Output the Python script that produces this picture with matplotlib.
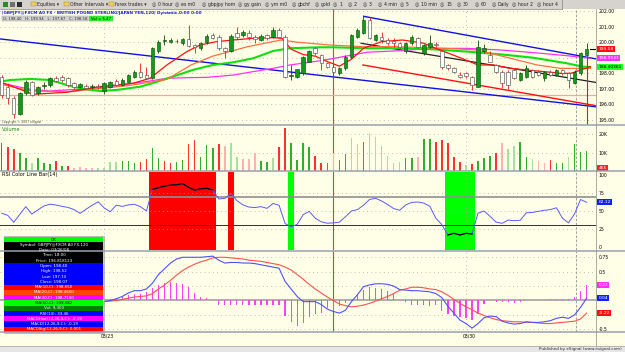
import numpy as np
import matplotlib.pyplot as plt
from matplotlib.patches import Rectangle

# ---- GBPJPY 120 min bars ----
opens = [197.77, 197.13, 196.38, 195.35, 196.70, 197.45, 196.70, 197.15, 197.24, 197.67,
         197.77, 197.67, 197.35, 197.13, 197.20, 197.10, 197.20, 196.85, 197.13, 197.50,
         197.24, 197.45, 197.78, 198.10, 197.88, 197.67, 199.40, 200.05, 200.04, 200.10,
         199.93, 200.21, 199.85, 199.61, 199.99, 200.46, 200.36, 199.61, 199.43, 200.57,
         200.46, 200.57, 200.36, 200.14, 200.47, 200.36, 200.79, 200.36, 197.85, 197.75,
         198.00, 198.75, 199.61, 199.18, 198.64, 198.42, 198.00, 198.31, 199.07, 200.36,
         200.57, 201.43, 200.15, 200.36, 200.15, 200.10, 199.93, 199.40, 199.93, 200.25,
         199.29, 199.72, 199.90, 199.40, 198.53, 198.31, 197.90, 198.00, 197.77, 197.13,
         199.40, 199.18, 198.53, 198.10, 198.10, 198.20, 197.56, 197.78, 198.20, 198.10,
         197.67, 198.10, 197.88, 198.20, 197.99, 197.35, 198.00, 199.20]
highs = [197.88, 197.35, 196.50, 196.81, 197.56, 197.50, 197.20, 197.40, 197.75, 197.80,
         197.90, 197.75, 197.40, 197.35, 197.30, 197.30, 197.30, 197.40, 197.50, 197.60,
         197.70, 197.95, 198.20, 198.63, 198.42, 199.70, 200.15, 200.47, 200.25, 200.20,
         200.30, 201.10, 199.90, 200.00, 200.50, 200.57, 200.45, 199.70, 200.50, 201.00,
         200.80, 200.80, 200.47, 200.50, 200.55, 201.00, 200.90, 200.45, 198.50, 198.30,
         199.10, 199.50, 199.72, 199.25, 198.70, 198.50, 198.40, 199.15, 200.55, 200.90,
         201.75, 201.65, 200.55, 200.68, 200.25, 200.25, 200.00, 200.00, 200.45, 200.35,
         199.90, 200.47, 200.00, 199.50, 198.60, 198.40, 198.10, 198.10, 197.85, 200.15,
         199.90, 199.40, 198.60, 198.20, 198.20, 198.30, 198.10, 198.50, 198.30, 198.20,
         198.15, 198.20, 198.30, 198.30, 198.10, 198.20, 199.35, 199.94]
lows = [196.38, 195.99, 195.09, 195.30, 196.60, 196.50, 196.60, 197.00, 197.10, 197.40,
        197.45, 197.10, 197.00, 197.05, 196.98, 197.00, 197.00, 196.66, 197.05, 197.15,
        197.15, 197.40, 197.70, 197.70, 197.60, 197.60, 199.30, 199.82, 199.95, 199.95,
        199.85, 199.70, 199.28, 199.50, 199.90, 200.20, 199.50, 199.00, 199.35, 200.20,
        200.36, 200.14, 199.93, 200.05, 200.14, 200.25, 200.25, 197.67, 197.56, 197.70,
        197.90, 198.70, 199.20, 198.21, 198.35, 197.67, 197.90, 198.20, 199.00, 200.25,
        200.50, 200.20, 200.05, 199.93, 199.85, 199.72, 199.60, 199.30, 199.85, 199.60,
        199.20, 199.60, 199.70, 198.30, 198.20, 198.00, 197.70, 197.70, 196.92, 197.10,
        199.30, 198.70, 198.00, 197.02, 197.00, 197.60, 197.50, 197.70, 197.70, 197.80,
        197.50, 197.80, 197.80, 197.90, 197.02, 197.30, 197.90, 194.50]
closes = [196.59, 196.42, 195.35, 196.70, 197.45, 196.59, 197.13, 197.25, 197.67, 197.50,
          197.56, 197.24, 197.13, 197.28, 197.05, 197.20, 197.10, 197.35, 197.45, 197.24,
          197.56, 197.88, 198.10, 197.78, 197.67, 199.61, 200.04, 200.15, 200.15, 200.05,
          200.21, 199.78, 199.72, 199.93, 200.42, 200.25, 199.61, 199.43, 200.42, 200.36,
          200.68, 200.36, 200.20, 200.42, 200.30, 200.79, 200.36, 197.78, 197.90, 198.25,
          199.07, 199.40, 199.29, 198.64, 198.42, 198.10, 198.31, 199.07, 200.47, 200.79,
          201.43, 200.25, 200.47, 200.15, 199.93, 199.95, 199.72, 199.93, 200.36, 199.72,
          199.83, 199.95, 199.80, 198.42, 198.31, 198.10, 197.75, 197.80, 197.24, 199.72,
          199.61, 198.75, 198.10, 197.35, 197.24, 197.67, 197.99, 198.31, 197.78, 197.88,
          198.05, 197.88, 198.20, 197.99, 197.56, 198.10, 199.29, 199.58]

# moving averages, read at a few bars each
ma_red_x = [-0.3, 5.2, 10.8, 16.3, 21.8, 24.6, 27.4, 30.7, 32.9, 35.7, 38.4, 41.7, 45, 46.5,
            48, 50, 52, 54, 56, 58, 60, 63, 66.5, 70, 72, 74, 76, 79, 81.6, 84.4, 87.2, 90,
            92.7, 94.4, 96, 97.6]
ma_red_y = [197.45, 196.64, 196.77, 197.13, 197.35, 197.67, 198.53, 199.39, 199.82, 200.04,
            200.14, 200.25, 200.29, 200.25, 199.55, 199.2, 199.1, 198.75, 198.45, 198.9, 199.6,
            200.04, 200.14, 199.93, 199.6, 199.3, 199.0, 198.53, 198.53, 198.31, 198.2, 198.1,
            197.99, 197.99, 198.2, 198.42]
ma_orange_x = [-0.3, 5, 11, 16, 21, 24.3, 27.4, 31.4, 35, 40.8, 46.3, 49, 54.3, 59.9, 65.4,
               73.5, 78.8, 84.4, 88.8, 92.7, 97.6]
ma_orange_y = [197.3, 196.85, 196.8, 197.0, 197.2, 197.4, 197.6, 198.53, 199.1, 199.71,
               200.14, 200.0, 199.82, 199.71, 199.71, 199.6, 199.5, 198.96, 198.53, 198.31,
               198.31]
ma_magenta_x = [-0.3, 1.4, 5.2, 8, 10.8, 14.1, 18, 21.8, 24.6, 27.4, 30.7, 34, 38.4, 41.7,
                45, 47.8, 52.8, 55, 60.6, 66, 71.5, 77.2, 82.6, 88.1, 93.7, 97.6]
ma_magenta_y = [197.35, 197.24, 196.92, 196.85, 196.92, 196.98, 197.13, 197.35, 197.5,
                197.67, 197.71, 197.73, 197.88, 198.1, 198.31, 198.53, 198.8, 198.95,
                199.35, 199.45, 199.6, 199.6, 199.5, 199.33, 199.13, 198.96]
ma_green_x = [-0.3, 1.4, 4.7, 8, 10.8, 13.5, 16.3, 19.1, 23, 25, 28.4, 31.7, 35, 38.4, 41.7,
              45, 47.8, 52.8, 55, 60.6, 66, 71.5, 77.2, 82.6, 88.1, 93.7, 96.4, 97.6]
ma_green_y = [197.45, 197.56, 197.63, 197.56, 197.24, 196.98, 196.85, 196.92, 197.13,
              197.35, 197.78, 198.21, 198.53, 198.70, 198.96, 199.43, 199.61, 199.67,
              199.67, 199.61, 199.61, 199.54, 199.39, 199.22, 199.0, 198.64, 198.42, 198.40]

# drawn trend lines: (bar, price) end points
trend_blue_long = ([-0.3, 98.6], [200.21, 195.83])
trend_blue_short = ([60.1, 98.6], [201.66, 198.92])
trend_red = ([59.9, 98.6], [198.53, 195.90])
trend_black = ([59.6, 98.6], [199.93, 197.40])
support_level = 196.6

volume_k = [15.1, 12.9, 11.8, 9.7, 6.9, 4.2, 6.9, 4.2, 3.6, 5.4,
            2.8, 2.8, 1.8, 2.0, 1.8, 1.5, 1.5, 1.5, 5.1, 4.7,
            5.4, 5.4, 4.2, 5.1, 6.4, 12.4, 6.9, 5.6, 4.5, 5.1,
            6.0, 14.7, 16.9, 7.9, 14.2, 12.4, 14.7, 13.7, 15.1, 7.9,
            6.4, 6.4, 9.7, 5.6, 5.1, 6.9, 13.3, 23.3, 15.1, 6.0,
            15.1, 13.3, 8.2, 4.5, 4.5, 9.7, 6.0, 9.5, 17.9, 14.7,
            15.7, 20.6, 18.8, 13.7, 8.2, 4.2, 5.1, 6.9, 7.3, 7.9,
            17.5, 17.5, 16.0, 16.9, 15.1, 7.9, 4.7, 3.3, 3.6, 5.4,
            6.9, 8.0, 10.0, 15.1, 11.8, 13.7, 16.0, 7.9, 6.4, 5.6,
            4.2, 6.0, 4.2, 4.2, 7.9, 14.7, 10.6, 10.9]
volume_tone = ("RRRGGgGGGR" "GRrrrrgggg" "GGGRRGGRRG" "GRRGGGRrgg" "rrrGGgRRGG"
               "GGRRGgGGgg" "GrrrrrrGGr" "GGRRRRRgRG" "GGRrggGGgr" "rRGGgGGG")

rsi_vals = [46.8, 44, 34.3, 45.4, 56.1, 45.8, 51.5, 57, 59.5, 58.3,
            56.5, 55, 52, 46.8, 52.5, 58, 62.8, 54.3, 49, 58,
            56.4, 58.5, 59.4, 56, 50.2, 80, 82.3, 84.5, 86.1, 86.4,
            88, 83, 79, 80.8, 81.5, 79.3, 66.7, 67.6, 74.5, 64.5,
            58.5, 55.5, 54.8, 56.1, 53.7, 60.5, 58, 32.6, 28, 31.5,
            45, 49.5, 40, 35, 33, 33.5, 34.5, 42, 50, 52,
            58, 66, 67.6, 64, 59, 53.5, 51, 58.5, 62, 62.5,
            61, 56.5, 40, 31, 16.7, 19, 16.7, 19, 18.1, 47,
            50, 42.6, 34.5, 32.9, 37.5, 36.5, 37.2, 47.5, 48, 49.5,
            51, 52, 54.5, 40, 33.5, 46, 66, 62.12]

macd_start = 17
macd_vals = [-0.02, 0.0, 0.03, 0.07, 0.13, 0.17, 0.17, 0.2, 0.3, 0.45,
             0.55, 0.65, 0.72, 0.75, 0.75, 0.75, 0.75, 0.76, 0.77, 0.7,
             0.65, 0.66, 0.66, 0.65, 0.65, 0.64, 0.62, 0.6, 0.58, 0.56,
             0.33, 0.2, 0.07, -0.02, -0.02, -0.02, -0.07, -0.15, -0.19, -0.22,
             -0.17, -0.02, 0.1, 0.24, 0.27, 0.29, 0.29, 0.28, 0.25, 0.19,
             0.18, 0.17, 0.17, 0.16, 0.15, 0.12, 0.05, -0.1, -0.22, -0.34,
             -0.4, -0.48, -0.4, -0.3, -0.27, -0.28, -0.36, -0.39, -0.41, -0.4,
             -0.37, -0.38, -0.38, -0.37, -0.35, -0.31, -0.29, -0.31, -0.25, -0.12, 0.04]
signal_vals = [-0.02, -0.01, 0.0, 0.02, 0.04, 0.06, 0.07, 0.08, 0.12, 0.2,
               0.27, 0.35, 0.44, 0.52, 0.58, 0.63, 0.67, 0.7, 0.74, 0.75,
               0.75, 0.74, 0.73, 0.72, 0.7, 0.69, 0.68, 0.66, 0.64, 0.62,
               0.58, 0.53, 0.45, 0.37, 0.28, 0.2, 0.13, 0.06, 0.0, -0.06,
               -0.09, -0.11, -0.1, -0.08, -0.05, -0.01, 0.03, 0.07, 0.12, 0.18,
               0.2, 0.23, 0.23, 0.22, 0.2, 0.19, 0.15, 0.09, 0.02, -0.05,
               -0.11, -0.16, -0.22, -0.26, -0.3, -0.33, -0.35, -0.36, -0.37, -0.37,
               -0.38, -0.38, -0.39, -0.4, -0.4, -0.39, -0.38, -0.37, -0.36, -0.32, -0.22]
hist_vals = [0.0, 0.02, 0.04, 0.06, 0.09, 0.11, 0.12, 0.14, 0.21, 0.27,
             0.31, 0.32, 0.31, 0.29, 0.23, 0.13, 0.06, 0.04, 0.01, -0.08,
             -0.08, -0.07, -0.07, -0.07, -0.08, -0.08, -0.08, -0.08, -0.08, -0.08,
             -0.27, -0.37, -0.45, -0.39, -0.28, -0.23, -0.22, -0.13, -0.19, -0.09,
             -0.05, 0.03, 0.12, 0.19, 0.23, 0.22, 0.2, 0.16, 0.11, 0.01,
             -0.02, -0.07, -0.08, -0.08, -0.09, -0.08, -0.19, -0.23, -0.27, -0.29,
             -0.3, -0.34, -0.23, -0.06, 0.0, -0.02, -0.03, -0.03, -0.04, -0.03,
             0.0, 0.0, 0.01, 0.01, 0.02, 0.03, 0.03, 0.02, 0.06, 0.17, 0.27]

cursor_bar = 55
date_bars = [17, 77]
date_labels = ["03/23", "03/30"]
session_bar = 95.2

data_window = ["OK", "Symbol: GBPJPY@FXCM A0 FX,120", "Date: 03/26/08", "Time: 18:00",
               "Price: 196.818123", "Open: 198.40", "High: 198.52", "Low: 197.74",
               "Close: 198.07", "MA(10,C): 198.650", "MA(20,C): 198.4600",
               "MA(30,C): 198.7100", "MA(50,C): 199.082", "Vol: 9,300", "RSI(14): 33.46",
               "MACDHist(12,26,9,C): -0.19", "MACD(12,26,9,C): -0.19",
               "MACDSig(12,26,9,C): 0.001"]
dw_colors = ["#00ff00", "k", "k", "k", "k", "#0000ff", "#0000ff", "#0000ff", "#0000ff",
             "#ff0000", "#ff4500", "#ff00ff", "#00ff00", "#008000", "#0000ff", "#ff00ff",
             "#0000ff", "#ff0000"]

toolbar_items = ["Equities \u25be", "Other Intervals \u25be", "forex trades \u25be", "0 hour",
                 "es m0", "gbpjpy hom", "gy gain", "ym m0", "gbchf", "gold", "1", "2", "3",
                 "4 min", "5", "10 min", "15", "30", "60", "Daily", "hour 2", "hour 4"]
toolbar_x = [31, 64, 109, 152, 175, 202, 238, 265, 292, 315, 333, 348, 363, 378, 400, 415,
             440, 457, 475, 492, 512, 537]

title = "|GBPJPY@FXCM A0 FX - BRITISH POUND STERLING/JAPAN YEN,120| Dynamic,0:00 0:00"

# ---------------- figure ----------------
CREAM = "#ffffe8"
GRID = "#a8a8a8"
W, H = 625, 352
fig = plt.figure(figsize=(6.25, 3.52), dpi=100)
fig.patch.set_facecolor(CREAM)


def pax(x0, y0, x1, y1):
    a = fig.add_axes([x0 / W, 1 - y1 / H, (x1 - x0) / W, (y1 - y0) / H])
    a.set_facecolor(CREAM)
    for s in a.spines.values():
        s.set_visible(False)
    a.set_xticks([])
    a.yaxis.tick_right()
    a.tick_params(axis="y", length=0, pad=2, labelsize=3.3)
    a.set_xlim(-0.28, 98.56)
    return a


def rbox(a, val, text, bg, fg="white"):
    a.text(1.004, val, text, transform=a.get_yaxis_transform(), fontsize=3.2, color=fg,
           va="center", ha="left", clip_on=False,
           bbox=dict(boxstyle="square,pad=0.25", fc=bg, ec="none"))


def vgrid(a):
    for b in date_bars:
        a.axvline(b, color=GRID, lw=0.6, ls=(0, (1, 4)))
    a.axvline(session_bar, color="#909090", lw=0.6, ls=(0, (3, 2)))
    a.axvline(cursor_bar, color="#c84848", lw=0.8)


x = np.arange(len(closes))
o, h, l, c = (np.array(v) for v in (opens, highs, lows, closes))
up = c >= o

# ---- price panel ----
ax = pax(0, 9, 596, 124.5)
ax.set_ylim(194.69, 202.14)
ax.set_yticks(range(195, 203))
# 199.00 sits under the coloured value boxes, as in the original
ax.set_yticklabels(["" if v == 199 else f"{v:.2f}" for v in range(195, 203)])
for v in range(195, 203):
    ax.axhline(v, color=GRID, lw=0.6, ls=(0, (1, 4)))
vgrid(ax)
ax.axhline(support_level, color="#f0a8a0", lw=0.9)
ax.plot(*trend_blue_long, color="#1010e0", lw=1.0)
ax.plot(*trend_blue_short, color="#1010e0", lw=1.0)
ax.plot(*trend_red, color="#ff1010", lw=1.0)
ax.plot(*trend_black, color="#202020", lw=0.9)
ax.plot(ma_magenta_x, ma_magenta_y, color="#ff30ff", lw=0.9)
ax.plot(ma_green_x, ma_green_y, color="#10e010", lw=1.5)
ax.plot(ma_orange_x, ma_orange_y, color="#ff7040", lw=0.9)
ax.plot(ma_red_x, ma_red_y, color="#ff1010", lw=0.9)
body_lo = np.minimum(o, c)
body_hi = np.maximum(o, c)
ax.vlines(x[up], l[up], h[up], color="#0a4a0a", lw=0.6, zorder=4)
ax.vlines(x[~up], l[~up], h[~up], color="#e81818", lw=0.6, zorder=4)
spike = (body_lo - l) > 2.0
ax.vlines(x[spike], l[spike], body_lo[spike], color="#e81818", lw=0.8, zorder=4)
bh = np.maximum(body_hi - body_lo, 0.03)
ax.bar(x[up], bh[up], bottom=body_lo[up], width=0.58, color="#129a1a",
       edgecolor="#0a4a0a", lw=0.4, zorder=5)
ax.bar(x[~up], bh[~up], bottom=body_lo[~up], width=0.58, color="white",
       edgecolor="#404040", lw=0.4, zorder=5)
ax.plot([x[-1] + 0.6, x[-1] + 1.4], [c[-1], c[-1]], color="k", lw=0.8)
rbox(ax, c[-1], f"{c[-1]:.2f}", "#ff1010")
rbox(ax, ma_magenta_y[-1], "198.9533", "#ff30ff")
rbox(ax, ma_green_y[-1], "198.40361", "#20ff20", "k")

# ---- volume panel ----
vol = pax(0, 125, 596, 171)
vol.set_ylim(0, 25.1)
vol.set_yticks([10, 20])
vol.set_yticklabels(["10K", "20K"])
for v in (10, 20):
    vol.axhline(v, color=GRID, lw=0.6, ls=(0, (1, 4)))
vgrid(vol)
tone_col = {"R": "#ff3030", "r": "#ffb0b0", "G": "#2fae2f", "g": "#a8e0a0"}
vol.bar(x, volume_k, width=0.26, color=[tone_col[t] for t in volume_tone], zorder=3)
rbox(vol, 1.6, "465", "#ff2020")

# ---- RSI panel ----
rs = pax(0, 171.5, 596, 250)
rs.set_ylim(-4.17, 104.9)
rs.set_yticks([0, 25, 50, 75, 100])
for v in (25, 50, 75):
    rs.axhline(v, color=GRID, lw=0.6, ls=(0, (1, 4)))
r = np.array(rsi_vals)
hot = r > 70
cold = r < 30
for i in x[hot]:
    rs.axvspan(i - 0.5, i + 0.5, color="#ff0000", lw=0)
for i in x[cold]:
    rs.axvspan(i - 0.5, i + 0.5, color="#00ff00", lw=0)
vgrid(rs)
rs.axhline(70, color="#909090", lw=1.2)
rs.axhline(30, color="#303030", lw=0.7)
rs.plot(x, r, color="#5a5aff", lw=0.7, zorder=4)
rs.plot(x, np.where(hot | cold, r, np.nan), color="k", lw=0.9, zorder=5)
rbox(rs, r[-1], f"{r[-1]:.2f}", "#1020ff")

# ---- MACD panel ----
md = pax(0, 251, 596, 332)
md.set_ylim(-0.547, 0.859)
md.set_yticks([-0.5, 0.5, 0.75])
md.set_yticklabels(["-0.5", "0.5", "0.75"])
for v in (-0.5, -0.25, 0.25, 0.5, 0.75):
    md.axhline(v, color=GRID, lw=0.6, ls=(0, (1, 4)))
vgrid(md)
md.axhline(0, color="#9a9a9a", lw=1.1)
mx = np.arange(macd_start, macd_start + len(macd_vals))
md.bar(mx, hist_vals, width=0.2, color="#ff40ff", zorder=3)
md.plot(mx, signal_vals, color="#ff5050", lw=0.8, zorder=4)
md.plot(mx, macd_vals, color="#5050ff", lw=0.8, zorder=4)
rbox(md, hist_vals[-1], f"{hist_vals[-1]:.2f}", "#ff30ff")
rbox(md, macd_vals[-1], f"{macd_vals[-1]:.2f}", "#1020ff")
rbox(md, signal_vals[-1], f"{signal_vals[-1]:.2f}", "#ff1010")
for b, lab in zip(date_bars, date_labels):
    md.text(b + 0.5, -0.02, lab, transform=md.get_xaxis_transform(), fontsize=3.3,
            ha="center", va="top", clip_on=False)

# ---- overlay: toolbar, title, separators, data window, footer ----
ov = fig.add_axes([0, 0, 1, 1])
ov.set_xlim(0, W)
ov.set_ylim(H, 0)
ov.axis("off")
ov.set_zorder(10)

ov.add_patch(Rectangle((0, 0), W, 8.8, fc="#d6d3ce", ec="none"))
ov.plot([0, 562], [8.8, 8.8], color="#808080", lw=0.5)
ov.plot([562, 562], [0, 8.8], color="#808080", lw=0.5)
for xi, col in zip([3, 10, 17], ["#2a8a2a", "#707070", "#303030"]):
    ov.add_patch(Rectangle((xi, 2), 5, 5, fc=col, ec="none"))
for i, (lab, xi) in enumerate(zip(toolbar_items, toolbar_x)):
    if i < 3:
        ov.add_patch(Rectangle((xi, 2.3), 4.5, 4, fc="#f0d060", ec="#a08020", lw=0.3))
    else:
        ov.text(xi, 4.5, "\u25ce", fontsize=3.6, va="center", ha="left", color="#303030")
    ov.text(xi + 6, 4.5, lab, fontsize=3.3, va="center", ha="left", color="#202020")

ov.text(1.5, 12.6, title, fontsize=3.0, color="#1a1ac8", fontweight="bold",
        va="center", ha="left")
ov.add_patch(Rectangle((2, 16.3), 86, 5, fc="#d4d4d4", ec="#909090", lw=0.3))
ov.text(45, 18.9, "O: 198.40   H: 199.94   L: 197.87   C: 198.58", fontsize=2.7,
        ha="center", va="center", color="#202020")
ov.add_patch(Rectangle((89, 16.3), 24, 5, fc="#20ff20", ec="#909090", lw=0.3))
ov.text(101, 18.9, "Vol = 5.47", fontsize=2.7, ha="center", va="center", color="k")
ov.text(2, 122.2, "Copyright \u00a9 2007 eSignal", fontsize=2.2, va="center", color="#404040")
ov.text(2, 129.5, "Volume", fontsize=3.6, va="center", color="#1a8a1a")
ov.text(2, 174.5, "RSI Color Line Bar(14)", fontsize=3.6, va="center", color="k")

for yy in (124.8, 171.2, 250.6, 332.3):
    ov.plot([0, W], [yy, yy], color="#9aa0b0", lw=1.1)
ov.plot([596, 596], [9, 346], color="#8a8a8a", lw=0.5)

top, rh = 237.0, 5.28
ov.add_patch(Rectangle((3.5, top - 0.6), 100.5, rh * len(data_window) + 1.2,
                       fc="#c8c8c8", ec="#a0a0a0", lw=0.4))
for k, (txt, col) in enumerate(zip(data_window, dw_colors)):
    ov.add_patch(Rectangle((4.3, top + k * rh), 99, rh, fc=col, ec="none"))
    fg = "k" if col == "#00ff00" else "white"
    ov.text(54, top + (k + 0.5) * rh, txt, fontsize=2.9, color=fg, ha="center",
            va="center")

ov.add_patch(Rectangle((0, 346), W, 6, fc="#e6e6e6", ec="none"))
ov.plot([0, W], [346, 346], color="#a0a0a0", lw=0.5)
ov.text(622, 349.2, "Published by eSignal (www.esignal.com)", fontsize=3.0,
        ha="right", va="center", color="#303030")

fig.savefig("out.png", dpi=100, facecolor=fig.get_facecolor())
